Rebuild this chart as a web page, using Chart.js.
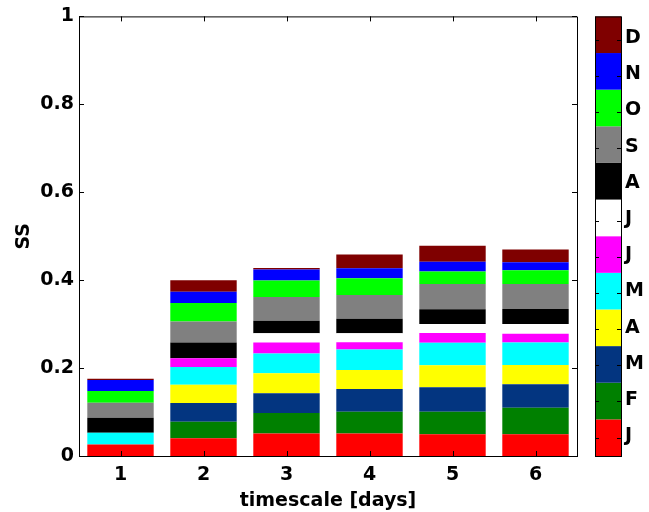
<!DOCTYPE html>
<html>
<head>
<meta charset="utf-8">
<script src="https://cdn.jsdelivr.net/npm/chart.js@4.4.1/dist/chart.umd.min.js"></script>
<style>
  html, body { margin: 0; padding: 0; background: #fff; }
  #wrap { width: 649px; height: 512px; }
</style>
</head>
<body>
<div id="wrap"><canvas id="c"></canvas></div>
<script>
// categories and stacked values (bottom to top: Jan..Dec)
const timescales = ['1', '2', '3', '4', '5', '6'];
const months = ['J', 'F', 'M', 'A', 'M', 'J', 'J', 'A', 'S', 'O', 'N', 'D'];
const monthColors = ['#ff0000', '#008000', '#033580', '#ffff00', '#00ffff', '#ff00ff',
                     '#ffffff', '#000000', '#808080', '#00ff00', '#0000ff', '#7f0000'];
const yTicks = [0, 0.2, 0.4, 0.6, 0.8, 1];

const jan = [0.026, 0.0405, 0.051, 0.051, 0.0495, 0.0495];
const feb = [0, 0.0375, 0.047, 0.0495, 0.051, 0.060];
const mar = [0, 0.0428, 0.045, 0.052, 0.056, 0.054];
const apr = [0, 0.0413, 0.045, 0.043, 0.050, 0.0435];
const may = [0.027, 0.0405, 0.045, 0.047, 0.051, 0.051];
const jun = [0, 0.0195, 0.025, 0.016, 0.0225, 0.020];
const jul = [0, 0, 0.021, 0.021, 0.020, 0.0225];
const aug = [0.034, 0.036, 0.0285, 0.033, 0.034, 0.034];
const sep = [0.034, 0.048, 0.054, 0.054, 0.057, 0.057];
const oct = [0.027, 0.042, 0.038, 0.038, 0.0285, 0.031];
const nov = [0.025, 0.0255, 0.025, 0.0225, 0.0225, 0.018];
const dec = [0.003, 0.026, 0.003, 0.0315, 0.036, 0.029];

const monthData = [jan, feb, mar, apr, may, jun, jul, aug, sep, oct, nov, dec];

const FONT = { family: '"DejaVu Sans", "Liberation Sans", Arial, sans-serif', size: 19, weight: 'bold' };

// box around plot + inward ticks, matlab style
const boxPlugin = {
    id: 'box',
    afterDraw(chart) {
        const { ctx, chartArea: a, scales } = chart;
        ctx.save();
        ctx.strokeStyle = '#000';
        ctx.lineWidth = 1;
        ctx.beginPath();
        ctx.moveTo(a.left, a.top + 0.5);
        ctx.lineTo(a.right + 0.5, a.top + 0.5);
        ctx.lineTo(a.right + 0.5, a.bottom);
        ctx.stroke();
        ctx.beginPath();
        yTicks.forEach(v => {
            const y = Math.round(scales.y.getPixelForValue(v)) + 0.5;
            ctx.moveTo(a.left, y); ctx.lineTo(a.left + 5, y);
            ctx.moveTo(a.right, y); ctx.lineTo(a.right - 5, y);
        });
        timescales.forEach((t, i) => {
            const x = Math.round(scales.x.getPixelForValue(i)) + 0.5;
            ctx.moveTo(x, a.bottom); ctx.lineTo(x, a.bottom - 5);
            ctx.moveTo(x, a.top); ctx.lineTo(x, a.top + 5);
        });
        ctx.stroke();
        ctx.restore();
    }
};

// month colorbar on the right
const colorbarPlugin = {
    id: 'colorbar',
    afterDraw(chart) {
        const { ctx, chartArea: a } = chart;
        const x0 = 595, x1 = 621;
        const h = (a.bottom - a.top) / months.length;
        ctx.save();
        months.forEach((m, i) => {
            const yb = a.bottom - i * h;
            ctx.fillStyle = monthColors[i];
            ctx.fillRect(x0, yb - h, x1 - x0, h);
        });
        ctx.strokeStyle = '#000';
        ctx.lineWidth = 1;
        ctx.strokeRect(x0 + 0.5, a.top + 0.5, x1 - x0, a.bottom - a.top);
        ctx.font = `${FONT.weight} ${FONT.size}px ${FONT.family}`;
        ctx.fillStyle = '#000';
        ctx.textAlign = 'left';
        ctx.textBaseline = 'middle';
        ctx.beginPath();
        months.forEach((m, i) => {
            // colorbar ticks sit a little off the segment centres
            const yc = a.bottom - h / 2 - i * h * 0.988;
            const yt = Math.round(yc) + 0.5;
            ctx.moveTo(x0, yt); ctx.lineTo(x0 + 4, yt);
            ctx.moveTo(x1, yt); ctx.lineTo(x1 - 4, yt);
            ctx.fillText(m, 625, yc - 1.5);
        });
        ctx.stroke();
        ctx.restore();
    }
};

new Chart(document.getElementById('c'), {
    type: 'bar',
    data: {
        labels: timescales,
        datasets: monthData.map((d, i) => ({
            label: months[i],
            data: d,
            backgroundColor: monthColors[i],
            borderWidth: 0,
            barPercentage: 0.8,
            categoryPercentage: 1
        }))
    },
    options: {
        responsive: true,
        maintainAspectRatio: false,
        animation: false,
        layout: { padding: { top: 12, right: 72, bottom: 0, left: 0 } },
        plugins: { legend: { display: false }, tooltip: { enabled: false } },
        scales: {
            x: {
                stacked: true,
                grid: { display: false, drawTicks: false },
                border: { display: true, color: '#000', width: 1 },
                ticks: { color: '#000', font: FONT, padding: 8, maxRotation: 0 },
                title: { display: true, text: 'timescale [days]', color: '#000', font: FONT, padding: { top: 0, bottom: 0 } },
                afterFit(scale) { scale.height = 56; }
            },
            y: {
                stacked: true,
                min: 0, max: 1,
                grid: { display: false, drawTicks: false },
                border: { display: true, color: '#000', width: 1 },
                ticks: {
                    color: '#000', font: FONT, padding: 5, stepSize: 0.2,
                    callback: v => (v === 0 || v === 1) ? String(v) : v.toFixed(1)
                },
                title: { display: true, text: 'SS', color: '#000', font: FONT, padding: { top: 13, bottom: 0 } },
                afterFit(scale) { scale.width = 79; }
            }
        }
    },
    plugins: [boxPlugin, colorbarPlugin]
});
</script>
</body>
</html>
